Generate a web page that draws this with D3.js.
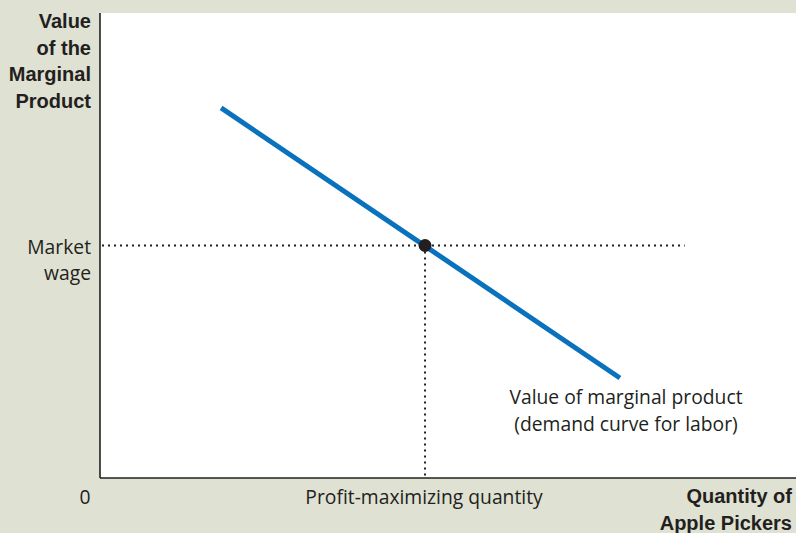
<!DOCTYPE html>
<html>
<head>
<meta charset="utf-8">
<script src="https://cdn.jsdelivr.net/npm/d3@7"></script>
<style>
  html, body { margin: 0; padding: 0; background: #dfe1d2; }
  svg { display: block; }
  .bold { font-family: "Liberation Sans", Arial, sans-serif; font-weight: bold; font-size: 20px; fill: #231f20; }
  .reg { font-family: "Open Sans", "Liberation Sans", sans-serif; font-size: 19.3px; fill: #231f20; }
</style>
</head>
<body>
<script>
// Demand curve for labor: value of marginal product vs. number of workers
const curveQuantity = [1.74, 7.47];
const curveValue = [7.96, 2.15];
const marketWage = [5];
const optimalQuantity = [4.67];
const wageGuideEnd = [8.4];
const yTitle = ["Value", "of the", "Marginal", "Product"];
const xTitle = ["Quantity of", "Apple Pickers"];
const wageLabel = ["Market", "wage"];
const curveLabel = ["Value of marginal product", "(demand curve for labor)"];
const quantityLabel = ["Profit-maximizing quantity"];

const W = 796, H = 533;
const svg = d3.select("body").append("svg").attr("width", W).attr("height", H);

const x = d3.scaleLinear().domain([0, 10]).range([100, 796]);
const y = d3.scaleLinear().domain([0, 10]).range([478, 13]);

// plot area
svg.append("rect").attr("x", x(0)).attr("y", y(10))
  .attr("width", x(10) - x(0)).attr("height", y(0) - y(10)).attr("fill", "#fff");

// axes
svg.append("line").attr("x1", x(0)).attr("x2", x(0)).attr("y1", y(10)).attr("y2", y(0))
  .attr("stroke", "#231f20").attr("stroke-width", 1.6);
svg.append("line").attr("x1", x(0)).attr("x2", x(10)).attr("y1", y(0)).attr("y2", y(0))
  .attr("stroke", "#231f20").attr("stroke-width", 1.6);

// dotted guides
const dotted = { stroke: "#231f20", "stroke-width": 2, "stroke-dasharray": "2,4" };
const hGuide = svg.append("line")
  .attr("x1", x(0) + 2).attr("x2", x(wageGuideEnd[0]))
  .attr("y1", y(marketWage[0])).attr("y2", y(marketWage[0]));
const vGuide = svg.append("line")
  .attr("x1", x(optimalQuantity[0])).attr("x2", x(optimalQuantity[0]))
  .attr("y1", y(marketWage[0])).attr("y2", y(0));
[hGuide, vGuide].forEach(g => Object.entries(dotted).forEach(([k, v]) => g.attr(k, v)));

// demand curve
const pts = curveQuantity.map((q, i) => [q, curveValue[i]]);
svg.append("path")
  .attr("d", d3.line().x(d => x(d[0])).y(d => y(d[1]))(pts))
  .attr("fill", "none").attr("stroke", "#0a72bd").attr("stroke-width", 5);

// equilibrium point
svg.append("circle").attr("cx", x(optimalQuantity[0])).attr("cy", y(marketWage[0]))
  .attr("r", 6.5).attr("fill", "#231f20");

// y-axis title
svg.append("text").attr("class", "bold").attr("text-anchor", "end")
  .selectAll("tspan").data(yTitle).join("tspan")
  .attr("x", 91).attr("y", (d, i) => 28 + i * 26.5).text(d => d);

// market wage label
svg.append("text").attr("class", "reg").attr("text-anchor", "end")
  .selectAll("tspan").data(wageLabel).join("tspan")
  .attr("x", 91).attr("y", (d, i) => y(marketWage[0]) + 8 + i * 26.5).text(d => d);

// origin
svg.append("text").attr("class", "reg").attr("text-anchor", "middle")
  .attr("x", 85).attr("y", 504).text("0");

// quantity label
svg.append("text").attr("class", "reg").attr("text-anchor", "middle")
  .attr("x", x(optimalQuantity[0]) - 1).attr("y", 504).text(quantityLabel[0]);

// x-axis title
svg.append("text").attr("class", "bold").attr("text-anchor", "end")
  .selectAll("tspan").data(xTitle).join("tspan")
  .attr("x", 792).attr("y", (d, i) => 503 + i * 27).text(d => d);

// curve label
svg.append("text").attr("class", "reg").attr("text-anchor", "middle")
  .selectAll("tspan").data(curveLabel).join("tspan")
  .attr("x", 626).attr("y", (d, i) => 404 + i * 27).text(d => d);
</script>
</body>
</html>
